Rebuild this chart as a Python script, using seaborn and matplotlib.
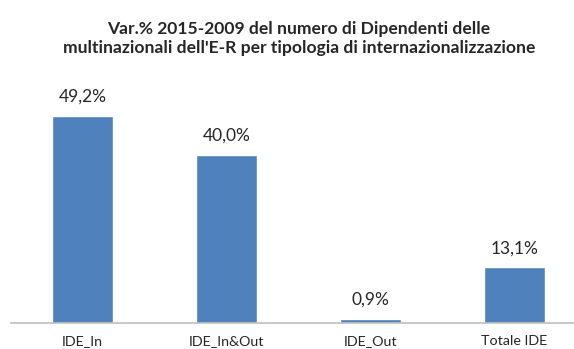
import matplotlib
matplotlib.use("Agg")
import matplotlib.pyplot as plt
import seaborn as sns
import pandas as pd

categories = ["IDE_In", "IDE_In&Out", "IDE_Out", "Totale IDE"]
values = [49.2, 40.0, 0.9, 13.1]
value_labels = ["49,2%", "40,0%", "0,9%", "13,1%"]
title = ("Var.% 2015-2009 del numero di Dipendenti delle\n"
         "multinazionali dell'E-R per tipologia di internazionalizzazione")

sns.set_style("white")
plt.rcParams["font.family"] = ["Lato", "DejaVu Sans"]

W, H = 574, 349
fig = plt.figure(figsize=(W / 100, H / 100), dpi=100)

# axes in pixel terms: category band starts at x=10.5, each category 144 px wide
left_px, bottom_px = 10.5, H - 322.5
px_per_unit = 4.2
ymax = 58
ax = fig.add_axes([left_px / W, bottom_px / H, 4 * 144 / W, ymax * px_per_unit / H])

df = pd.DataFrame({"cat": categories, "val": values})
sns.barplot(data=df, x="cat", y="val", color="#4F81BD", saturation=1,
            width=0.43, ax=ax)

ax.set_ylim(0, ymax)
ax.set_xlim(-0.5, 3.5)
for s in ["top", "right", "left"]:
    ax.spines[s].set_visible(False)
ax.spines["bottom"].set_color("#BFBFBF")
ax.spines["bottom"].set_linewidth(1.2)
ax.set_yticks([])
ax.set_xlabel("")
ax.set_ylabel("")
ax.tick_params(axis="x", length=0, pad=9, labelsize=10.3, labelcolor="#262626")

for i, (v, lab) in enumerate(zip(values, value_labels)):
    ax.annotate(lab, (i, v), xytext=(0, 8), textcoords="offset points",
                ha="center", va="bottom", fontsize=12.5, color="#262626")

fig.text(299 / W, 1 - 38.5 / H, title, ha="center", va="center",
         fontsize=12.6, fontweight="bold", color="#262626", linespacing=1.2)

fig.savefig("out.png", dpi=100)
